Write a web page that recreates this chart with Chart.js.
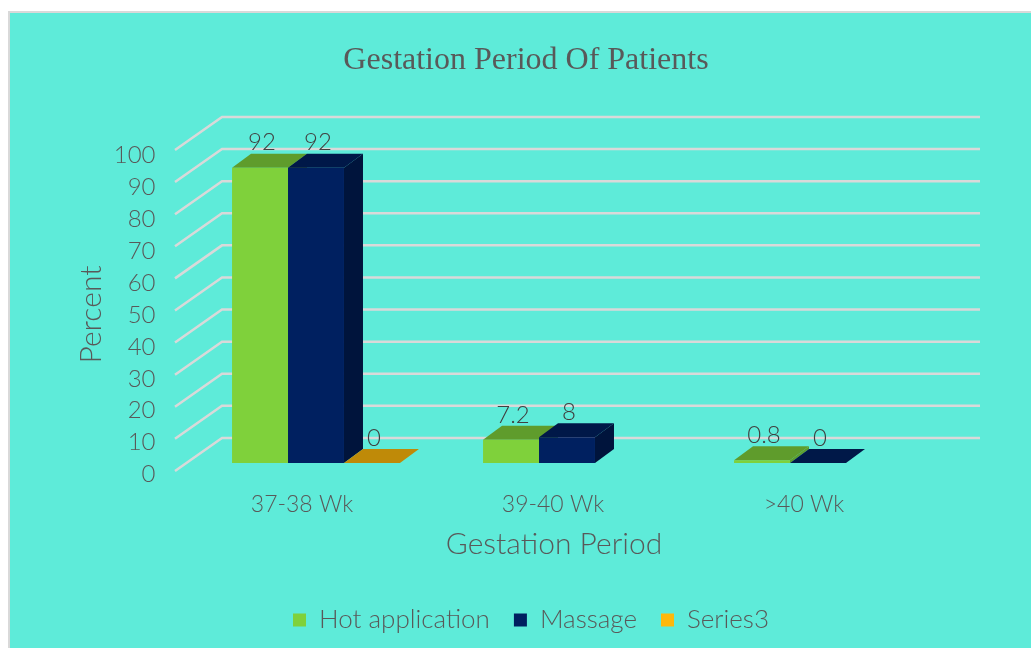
<!DOCTYPE html>
<html>
<head>
<meta charset="utf-8">
<script src="https://cdn.jsdelivr.net/npm/chart.js@4"></script>
<style>
html,body{margin:0;padding:0;background:#fff;overflow:hidden}
#wrap{position:relative;width:1031px;height:648px}
#panel{position:absolute;left:8px;top:11px;width:1023px;height:637px;box-sizing:border-box;background:#5EEBD9;border-left:2px solid #D9D9D9;border-top:2px solid #D9D9D9}
canvas{position:absolute;left:0;top:0}
</style>
</head>
<body>
<div id="wrap"><div id="panel"></div><canvas id="c" width="1031" height="648"></canvas></div>
<script>
const chartTitle = "Gestation Period Of Patients";
const xTitle = "Gestation Period";
const yTitle = "Percent";
const categories = ["37-38 Wk", "39-40 Wk", ">40 Wk"];
const hotApplication = [92, 7.2, 0.8];
const massage = [92, 8, 0];
const series3 = [0, null, null];

const TEXT = "#595959", LABEL = "#404040", GRID = "#D9D9D9";
const SANS = "Lato";
const DEPTH_X = 19, DEPTH_Y = 14;
const WALL_X0 = 175, WALL_X1 = 222, WALL_X2 = 980, FRONT_DY = 8, WALL_DY = 25;

function poly(ctx, pts, fill) {
  ctx.beginPath();
  pts.forEach((p, i) => i ? ctx.lineTo(p[0], p[1]) : ctx.moveTo(p[0], p[1]));
  ctx.closePath();
  ctx.fillStyle = fill;
  ctx.fill();
}

const threeD = {
  id: "threeD",
  afterLayout(chart) { chart.legend.left += 10; },
  beforeDatasetsDraw(chart) {
    const ctx = chart.ctx, sc = chart.scales.y;
    ctx.save();
    ctx.strokeStyle = GRID;
    ctx.lineWidth = 2.5;
    sc.ticks.forEach(t => {
      const y = sc.getPixelForValue(t.value);
      ctx.beginPath();
      ctx.moveTo(WALL_X0, y + FRONT_DY);
      ctx.lineTo(WALL_X1, y - WALL_DY);
      ctx.lineTo(WALL_X2, y - WALL_DY);
      ctx.stroke();
    });
    chart.data.datasets.forEach((ds, di) => {
      chart.getDatasetMeta(di).data.forEach((b, i) => {
        if (ds.data[i] === null) return;
        const l = b.x - b.width / 2, r = b.x + b.width / 2, t = b.y, bot = b.base;
        poly(ctx, [[r, t], [r + DEPTH_X, t - DEPTH_Y], [r + DEPTH_X, bot - DEPTH_Y], [r, bot]], ds.sideColor);
        poly(ctx, [[l, t], [l + DEPTH_X, t - DEPTH_Y], [r + DEPTH_X, t - DEPTH_Y], [r, t]], ds.topColor);
      });
    });
    ctx.restore();
  },
  afterDatasetsDraw(chart) {
    const ctx = chart.ctx;
    ctx.save();
    ctx.fillStyle = LABEL;
    ctx.font = "300 24px " + SANS;
    ctx.textAlign = "center";
    ctx.textBaseline = "middle";
    chart.data.datasets.forEach((ds, di) => {
      chart.getDatasetMeta(di).data.forEach((b, i) => {
        if (ds.data[i] === null) return;
        ctx.fillText(String(ds.data[i]), b.x + 2, b.y - 25);
      });
    });
    ctx.fillStyle = TEXT;
    ctx.font = "300 30px " + SANS;
    ctx.fillText(xTitle, 554, 544);
    ctx.restore();
  }
};

new Chart(document.getElementById("c"), {
  type: "bar",
  data: {
    labels: categories,
    datasets: [
      { label: "Hot application", data: hotApplication, yAxisID: "y", backgroundColor: "#7FD13B", topColor: "#5F9C2C", sideColor: "#5F9C2C" },
      { label: "Massage", data: massage, yAxisID: "y", backgroundColor: "#002060", topColor: "#001848", sideColor: "#00143C" },
      { label: "Series3", data: series3, yAxisID: "y", backgroundColor: "#FEB80A", topColor: "#BF8A08", sideColor: "#BF8A08" }
    ]
  },
  options: {
    responsive: false,
    animation: false,
    categoryPercentage: 0.669,
    barPercentage: 1,
    layout: { padding: { left: 21, right: 0, top: 0, bottom: 5 } },
    plugins: {
      tooltip: { enabled: false },
      title: {
        display: true, text: chartTitle, color: TEXT,
        font: { family: "Liberation Serif", size: 32, weight: "normal" },
        padding: { top: 41.8, bottom: 61.8 }
      },
      legend: {
        position: "bottom",
        labels: { boxWidth: 13, boxHeight: 13, padding: 24, color: TEXT, font: { family: SANS, size: 26, weight: 300 } }
      }
    },
    scales: {
      x: {
        grid: { display: false, drawTicks: false }, border: { display: false },
        ticks: { color: TEXT, font: { family: SANS, size: 23, weight: 300 }, labelOffset: -14, padding: 4, maxRotation: 0 },
        afterFit(s) { s.height = 96; }
      },
      yLabels: {
        position: "left", min: -3.93, max: 104.25,
        grid: { display: false }, border: { display: false },
        ticks: { stepSize: 10, includeBounds: false, color: TEXT, font: { family: SANS, size: 24, weight: 300 }, padding: 27 },
        title: { display: true, text: yTitle, color: TEXT, font: { family: SANS, size: 30, weight: 300 }, padding: { top: 52, bottom: 0 } },
        afterFit(s) { s.width = 169.5; }
      },
      y: { display: false, min: -7.5, max: 100, ticks: { stepSize: 10, includeBounds: false } },
      rightGap: {
        position: "right", display: true,
        grid: { display: false }, border: { display: false },
        ticks: { display: false },
        afterFit(s) { s.width = 87.5; }
      }
    }
  },
  plugins: [threeD]
});
</script>
</body>
</html>
